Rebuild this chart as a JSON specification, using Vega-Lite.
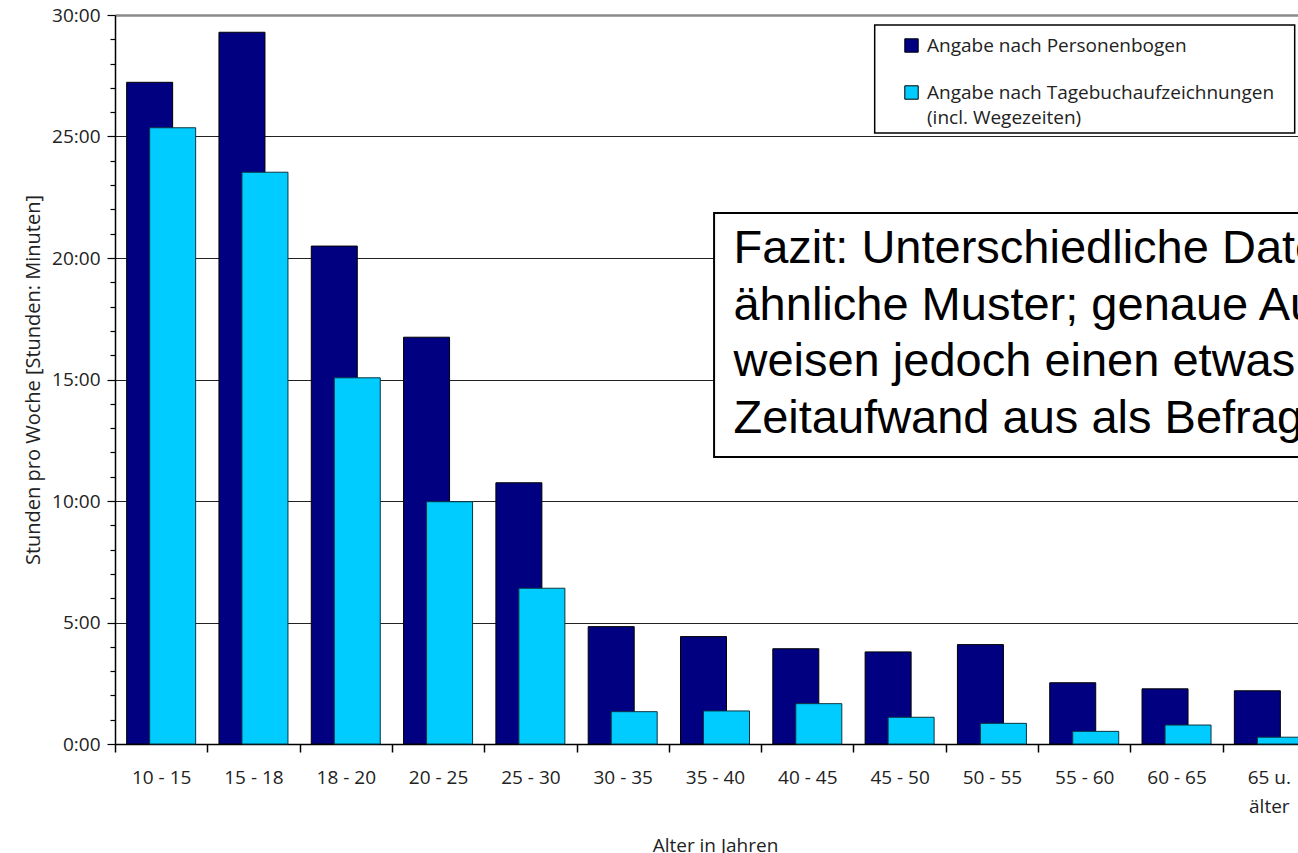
{
  "$schema": "https://vega.github.io/schema/vega-lite/v6.json",
  "width": 1200,
  "height": 729,
  "autosize": {"type": "none"},
  "padding": {"left": 115, "top": 15, "right": 0, "bottom": 109},
  "background": "white",
  "config": {
    "view": {"stroke": null},
    "font": "Open Sans",
    "axisY": {
      "labelOverlap": false,
      "labelFlush": false,
      "tickColor": "#000000",
      "tickWidth": 1.2,
      "domainColor": "#000000",
      "domainWidth": 1.5,
      "labelFont": "Open Sans",
      "labelFontSize": 19,
      "labelColor": "#222222",
      "labelPadding": 7,
      "titleFont": "Open Sans",
      "titleFontSize": 20,
      "titleFontWeight": "normal",
      "titleColor": "#222222",
      "titlePadding": 8
    }
  },
  "data": {
    "values": [
      {"age": "10 - 15", "series": "Angabe nach Personenbogen", "hours": 27.23},
      {"age": "15 - 18", "series": "Angabe nach Personenbogen", "hours": 29.29},
      {"age": "18 - 20", "series": "Angabe nach Personenbogen", "hours": 20.49},
      {"age": "20 - 25", "series": "Angabe nach Personenbogen", "hours": 16.74},
      {"age": "25 - 30", "series": "Angabe nach Personenbogen", "hours": 10.75},
      {"age": "30 - 35", "series": "Angabe nach Personenbogen", "hours": 4.83},
      {"age": "35 - 40", "series": "Angabe nach Personenbogen", "hours": 4.42},
      {"age": "40 - 45", "series": "Angabe nach Personenbogen", "hours": 3.92},
      {"age": "45 - 50", "series": "Angabe nach Personenbogen", "hours": 3.79},
      {"age": "50 - 55", "series": "Angabe nach Personenbogen", "hours": 4.09},
      {"age": "55 - 60", "series": "Angabe nach Personenbogen", "hours": 2.52},
      {"age": "60 - 65", "series": "Angabe nach Personenbogen", "hours": 2.27},
      {"age": "65 u. älter", "series": "Angabe nach Personenbogen", "hours": 2.19},
      {"age": "10 - 15", "series": "Angabe nach Tagebuchaufzeichnungen (incl. Wegezeiten)", "hours": 25.36},
      {"age": "15 - 18", "series": "Angabe nach Tagebuchaufzeichnungen (incl. Wegezeiten)", "hours": 23.53},
      {"age": "18 - 20", "series": "Angabe nach Tagebuchaufzeichnungen (incl. Wegezeiten)", "hours": 15.07},
      {"age": "20 - 25", "series": "Angabe nach Tagebuchaufzeichnungen (incl. Wegezeiten)", "hours": 9.97},
      {"age": "25 - 30", "series": "Angabe nach Tagebuchaufzeichnungen (incl. Wegezeiten)", "hours": 6.41},
      {"age": "30 - 35", "series": "Angabe nach Tagebuchaufzeichnungen (incl. Wegezeiten)", "hours": 1.33},
      {"age": "35 - 40", "series": "Angabe nach Tagebuchaufzeichnungen (incl. Wegezeiten)", "hours": 1.36},
      {"age": "40 - 45", "series": "Angabe nach Tagebuchaufzeichnungen (incl. Wegezeiten)", "hours": 1.66},
      {"age": "45 - 50", "series": "Angabe nach Tagebuchaufzeichnungen (incl. Wegezeiten)", "hours": 1.10},
      {"age": "50 - 55", "series": "Angabe nach Tagebuchaufzeichnungen (incl. Wegezeiten)", "hours": 0.85},
      {"age": "55 - 60", "series": "Angabe nach Tagebuchaufzeichnungen (incl. Wegezeiten)", "hours": 0.52},
      {"age": "60 - 65", "series": "Angabe nach Tagebuchaufzeichnungen (incl. Wegezeiten)", "hours": 0.78},
      {"age": "65 u. älter", "series": "Angabe nach Tagebuchaufzeichnungen (incl. Wegezeiten)", "hours": 0.28}
    ]
  },
  "layer": [
    {
      "layer": [
        {
          "transform": [{"filter": "datum.series === 'Angabe nach Personenbogen'"}],
          "mark": {"type": "bar", "width": 46, "xOffset": -11.5, "stroke": "#000000", "strokeWidth": 1},
          "encoding": {
            "x": {
              "field": "age", "type": "nominal", "sort": null,
              "scale": {"paddingInner": 0, "paddingOuter": 0},
              "axis": {
                "title": "Alter in Jahren",
                "tickBand": "extent",
                "tickSize": 8,
                "tickColor": "#000000",
                "tickWidth": 1.5,
                "domainColor": "#000000",
                "domainWidth": 1.5,
                "labelAngle": 0,
                "labelFont": "Open Sans",
                "labelFontSize": 19,
                "labelColor": "#222222",
                "labelPadding": 16,
                "labelLineHeight": 29,
                "labelBaseline": "top",
                "labelExpr": "datum.value === '65 u. älter' ? ['65 u.', 'älter'] : datum.label",
                "titleFont": "Open Sans",
                "titleFontSize": 19,
                "titleFontWeight": "normal",
                "titleColor": "#222222",
                "titlePadding": 20
              }
            },
            "y": {
              "field": "hours", "type": "quantitative",
              "scale": {"domain": [0, 30], "nice": false, "zero": true},
              "axis": {
                "values": [0,1,2,3,4,5,6,7,8,9,10,11,12,13,14,15,16,17,18,19,20,21,22,23,24,25,26,27,28,29,30],
                "labelExpr": "datum.value % 5 === 0 ? datum.value + ':00' : ''",
                "tickSize": {"condition": {"test": "datum.value % 5 === 0", "value": 8}, "value": 5},
                "grid": true,
                "gridOpacity": {"condition": {"test": "datum.value % 5 === 0 && datum.value > 0", "value": 1}, "value": 0},
                "gridColor": {"condition": {"test": "datum.value === 30", "value": "#8a8a8a"}, "value": "#222222"},
                "gridWidth": {"condition": {"test": "datum.value === 30", "value": 2.5}, "value": 1.2},
                "title": "Stunden pro Woche [Stunden: Minuten]"
              }
            },
            "color": {
              "field": "series", "type": "nominal",
              "scale": {"domain": ["Angabe nach Personenbogen", "Angabe nach Tagebuchaufzeichnungen (incl. Wegezeiten)"], "range": ["#000080", "#00ccff"]},
              "legend": {
                "orient": "none",
                "legendX": 787,
                "legendY": 21,
                "title": null,
                "padding": 0,
                "labelFont": "Open Sans",
                "labelFontSize": 19,
                "labelColor": "#222222",
                "labelLimit": 0,
                "labelOffset": 6,
                "symbolType": "square",
                "symbolSize": 180,
                "symbolStrokeColor": "#000000",
                "symbolStrokeWidth": 1,
                "symbolOpacity": 1,
                "rowPadding": 27,
                "labelBaseline": "middle",
                "labelExpr": "indexof(datum.label, ' (') > 0 ? [substring(datum.label, 0, indexof(datum.label, ' (')), substring(datum.label, indexof(datum.label, ' (') + 1)] : datum.label",
                "encode": {"labels": {"update": {"lineHeight": {"value": 25}}}}
              }
            }
          }
        },
        {
          "transform": [{"filter": "datum.series !== 'Angabe nach Personenbogen'"}],
          "mark": {"type": "bar", "width": 46, "xOffset": 11.5, "stroke": "#0a3540", "strokeWidth": 1},
          "encoding": {
            "x": {"field": "age", "type": "nominal", "sort": null},
            "y": {
              "field": "hours", "type": "quantitative",
              "axis": {
                "values": [0,1,2,3,4,5,6,7,8,9,10,11,12,13,14,15,16,17,18,19,20,21,22,23,24,25,26,27,28,29,30],
                "labelExpr": "datum.value % 5 === 0 ? datum.value + ':00' : ''",
                "tickSize": {"condition": {"test": "datum.value % 5 === 0", "value": 8}, "value": 5},
                "grid": true,
                "gridOpacity": {"condition": {"test": "datum.value % 5 === 0 && datum.value > 0", "value": 1}, "value": 0},
                "gridColor": {"condition": {"test": "datum.value === 30", "value": "#8a8a8a"}, "value": "#222222"},
                "gridWidth": {"condition": {"test": "datum.value === 30", "value": 2.5}, "value": 1.2},
                "title": "Stunden pro Woche [Stunden: Minuten]"
              }
            },
            "color": {"field": "series", "type": "nominal"}
          }
        }
      ]
    },
    {
      "data": {"values": [{}]},
      "layer": [
        {
          "mark": {"type": "rect", "fill": "#ffffff", "stroke": "#000000", "strokeWidth": 1.5},
          "encoding": {
            "x": {"datum": 8.23, "type": "quantitative", "scale": {"domain": [0, 13], "nice": false, "zero": false}, "axis": null},
            "x2": {"datum": 12.78},
            "y": {"datum": 29.59, "type": "quantitative", "scale": {"domain": [0, 30], "nice": false, "zero": false}, "axis": null},
            "y2": {"datum": 25.14}
          }
        },
        {
          "mark": {"type": "rect", "fill": "#ffffff", "stroke": "#000000", "strokeWidth": 2},
          "encoding": {
            "x": {"datum": 6.49, "type": "quantitative", "axis": null},
            "x2": {"datum": 14},
            "y": {"datum": 21.85, "type": "quantitative", "axis": null},
            "y2": {"datum": 11.81}
          }
        },
        {
          "mark": {"type": "text", "align": "left", "baseline": "alphabetic", "font": "Liberation Sans", "fontSize": 47, "lineHeight": 56.7, "color": "#000000"},
          "encoding": {
            "x": {"datum": 6.7, "type": "quantitative", "axis": null},
            "y": {"datum": 19.79, "type": "quantitative", "axis": null},
            "text": {"value": ["Fazit: Unterschiedliche Datenquellen zeigen", "ähnliche Muster; genaue Aufzeichnungen", "weisen jedoch einen etwas geringeren", "Zeitaufwand aus als Befragungen."]}
          }
        }
      ]
    }
  ],
  "resolve": {"scale": {"x": "independent", "y": "independent"}}
}
